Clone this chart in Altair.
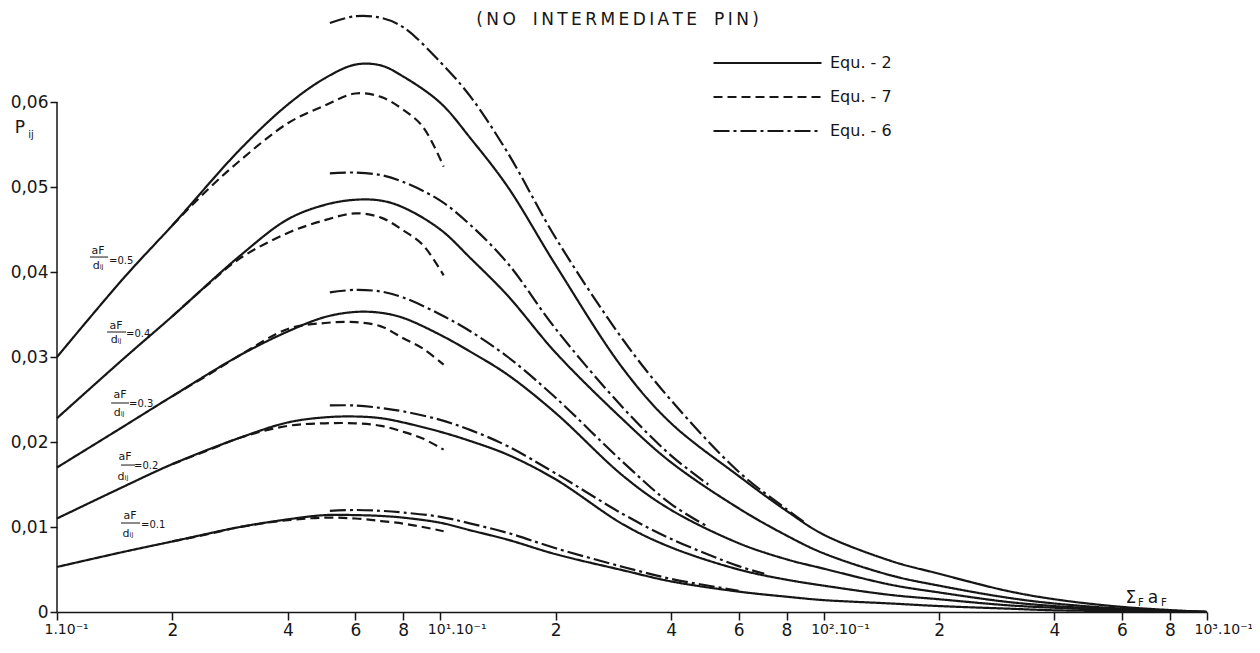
import json
import altair as alt
import pandas as pd

FONT = "DejaVu Sans"
INK = "#161616"

ratios = ["0.5", "0.4", "0.3", "0.2", "0.1"]
equations = ["Equ. - 2", "Equ. - 7", "Equ. - 6"]

# ---- Equ. - 2 (solid) : whole range of sum a_F (units of 10^-1)
x_eq2 = [1, 1.5, 2, 3, 4, 5, 6, 7, 8, 10, 12, 15, 20, 30, 40, 60, 80, 100, 150, 200, 300, 400, 600, 1000]
p_eq2_05 = [0.0300, 0.0394, 0.0455, 0.0544, 0.0597, 0.0628, 0.0644, 0.0643, 0.0630, 0.0599, 0.0557, 0.0500, 0.0408, 0.0286, 0.0222, 0.0160, 0.0119, 0.0091, 0.0060, 0.0045, 0.0025, 0.0015, 0.0006, 0.0]
p_eq2_04 = [0.0228, 0.0299, 0.0348, 0.0419, 0.0462, 0.0479, 0.0485, 0.0484, 0.0476, 0.0450, 0.0416, 0.0372, 0.0305, 0.0226, 0.0176, 0.0122, 0.0090, 0.0069, 0.0043, 0.0031, 0.0017, 0.0010, 0.0004, 0.0]
p_eq2_03 = [0.0170, 0.0219, 0.0254, 0.0302, 0.0330, 0.0347, 0.0353, 0.0352, 0.0346, 0.0326, 0.0306, 0.0279, 0.0234, 0.0160, 0.0120, 0.0081, 0.0062, 0.0051, 0.0032, 0.0023, 0.0012, 0.0007, 0.0003, 0.0]
p_eq2_02 = [0.0110, 0.0148, 0.0174, 0.0205, 0.0223, 0.0229, 0.0230, 0.0228, 0.0223, 0.0212, 0.0201, 0.0185, 0.0156, 0.0103, 0.0076, 0.0050, 0.0038, 0.0031, 0.0020, 0.0015, 0.0008, 0.0005, 0.0002, 0.0]
p_eq2_01 = [0.0053, 0.0071, 0.0083, 0.0100, 0.0109, 0.0114, 0.0114, 0.0113, 0.0111, 0.0105, 0.0096, 0.0085, 0.0068, 0.0049, 0.0036, 0.0024, 0.0018, 0.0014, 0.0010, 0.0007, 0.0004, 0.0002, 0.0001, 0.0]

# ---- Equ. - 7 (dashed)
x_eq7 = [2, 2.5, 3, 4, 5, 6, 7, 8, 9, 10.2]
p_eq7_05 = [0.0455, 0.0499, 0.0531, 0.0575, 0.0596, 0.0610, 0.0606, 0.0591, 0.0571, 0.0524]
p_eq7_04 = [0.0348, 0.0387, 0.0416, 0.0446, 0.0461, 0.0469, 0.0464, 0.0449, 0.0432, 0.0396]
p_eq7_03 = [0.0254, 0.0280, 0.0302, 0.0333, 0.0340, 0.0341, 0.0336, 0.0322, 0.0310, 0.0291]
p_eq7_02 = [0.0174, 0.0191, 0.0205, 0.0219, 0.0222, 0.0222, 0.0219, 0.0212, 0.0204, 0.0191]
p_eq7_01 = [0.0083, 0.0092, 0.0100, 0.0108, 0.0111, 0.0110, 0.0107, 0.0104, 0.0100, 0.0095]

# ---- Equ. - 6 (dash-dot)
x_eq6_05 = [5.15, 6, 7, 8, 10, 12, 15, 20, 30, 40, 60, 80, 90]
p_eq6_05 = [0.0693, 0.0701, 0.0699, 0.0688, 0.0647, 0.0606, 0.0540, 0.0440, 0.0320, 0.0249, 0.0165, 0.0121, 0.0104]
x_eq6_04 = [5.15, 6, 7, 8, 10, 12, 15, 20, 30, 40, 50]
p_eq6_04 = [0.0516, 0.0517, 0.0514, 0.0506, 0.0484, 0.0455, 0.0410, 0.0333, 0.0240, 0.0184, 0.0150]
x_eq6_03 = [5.15, 6, 7, 8, 10, 12, 15, 20, 30, 40, 50]
p_eq6_03 = [0.0376, 0.0379, 0.0377, 0.0370, 0.0350, 0.0330, 0.0300, 0.0252, 0.0176, 0.0127, 0.0100]
x_eq6_02 = [5.15, 6, 7, 8, 10, 12, 15, 20, 30, 40, 60, 70]
p_eq6_02 = [0.0243, 0.0243, 0.0240, 0.0236, 0.0226, 0.0214, 0.0195, 0.0163, 0.0115, 0.0086, 0.0054, 0.0045]
x_eq6_01 = [5.15, 6, 7, 8, 10, 12, 15, 20, 30, 40, 60]
p_eq6_01 = [0.0119, 0.0120, 0.0119, 0.0117, 0.0112, 0.0104, 0.0093, 0.0075, 0.0053, 0.0039, 0.0025]

# ---- axes
x_tick_values = [1, 2, 4, 6, 8, 10, 20, 40, 60, 80, 100, 200, 400, 600, 800, 1000]
x_tick_labels = ["1.10⁻¹", "2", "4", "6", "8", "10¹.10⁻¹", "2", "4", "6", "8",
                 "10².10⁻¹", "2", "4", "6", "8", "10³.10⁻¹"]
x_decades = [1, 10, 100, 1000]
y_tick_values = [0, 0.01, 0.02, 0.03, 0.04, 0.05, 0.06]

TS = "\u2009"
title_text = "\u2003".join(TS.join(w) for w in ["(NO", "INTERMEDIATE", "PIN)"])

# ---- annotations (data coordinates)
ann_center_text = ["aF", "dᵢⱼ", "aF", "dᵢⱼ", "aF", "dᵢⱼ", "aF", "dᵢⱼ", "aF", "dᵢⱼ",
                   "P", "ij", "Σ", "F", "a", "F", title_text]
ann_center_x = [1.280, 1.280, 1.426, 1.426, 1.461, 1.452, 1.505, 1.487, 1.551, 1.532,
                0.80, 0.855, 633.0, 672.0, 723.0, 772.0, 29.0]
ann_center_y = [0.04247, 0.04071, 0.03365, 0.03200, 0.02553, 0.02341, 0.01824, 0.01588, 0.01129, 0.00918,
                0.05694, 0.05612, 0.00165, 0.00106, 0.00165, 0.00106, 0.06965]
ann_center_size = [11, 11, 11, 11, 11, 11, 11, 11, 11, 11,
                   17, 10, 17, 10, 17, 10, 17]

ann_left_text = ["=0.5", "=0.4", "=0.3", "=0.2", "=0.1"]
ann_left_x = [1.367, 1.514, 1.542, 1.589, 1.657]
ann_left_y = [0.04129, 0.03271, 0.02447, 0.01718, 0.01024]

bar_x1 = [1.219, 1.351, 1.384, 1.469, 1.469]
bar_x2 = [1.359, 1.514, 1.542, 1.598, 1.647]
bar_y = [0.04176, 0.03294, 0.02459, 0.01729, 0.01047]

# ---- build long table
rows = []
eq2 = dict(zip(ratios, [p_eq2_05, p_eq2_04, p_eq2_03, p_eq2_02, p_eq2_01]))
eq7 = dict(zip(ratios, [p_eq7_05, p_eq7_04, p_eq7_03, p_eq7_02, p_eq7_01]))
eq6x = dict(zip(ratios, [x_eq6_05, x_eq6_04, x_eq6_03, x_eq6_02, x_eq6_01]))
eq6 = dict(zip(ratios, [p_eq6_05, p_eq6_04, p_eq6_03, p_eq6_02, p_eq6_01]))
for r in ratios:
    for xv, pv in zip(x_eq2, eq2[r]):
        rows.append({"x": xv, "p": pv, "eq": "Equ. - 2", "series": "2-" + r})
    for xv, pv in zip(x_eq7, eq7[r]):
        rows.append({"x": xv, "p": pv, "eq": "Equ. - 7", "series": "7-" + r})
    for xv, pv in zip(eq6x[r], eq6[r]):
        rows.append({"x": xv, "p": pv, "eq": "Equ. - 6", "series": "6-" + r})
df = pd.DataFrame(rows)

label_expr = "''"
for v, lab in reversed(list(zip(x_tick_values, x_tick_labels))):
    label_expr = "(abs(datum.value - {}) < 1e-6 ? {} : {})".format(v, json.dumps(lab, ensure_ascii=False), label_expr)
decade_test = " || ".join("abs(datum.value - {}) < 1e-6".format(v) for v in x_decades)

x_scale = alt.Scale(type="log", domain=[1, 1000], nice=False)
y_scale = alt.Scale(domain=[0, 0.07], nice=False, zero=True)

lines = alt.Chart(df).mark_line(strokeWidth=2.2, color=INK, interpolate="catmull-rom").encode(
    x=alt.X("x:Q", scale=x_scale,
            axis=alt.Axis(values=x_tick_values, labelExpr=label_expr, title=None, grid=False,
                          tickSize=8, tickWidth=1.5, tickColor=INK, domainColor=INK, domainWidth=1.5,
                          labelFont=FONT, labelColor=INK, labelPadding=2,
                          labelFlush=False, labelOverlap=False,
                          labelFontSize={"condition": {"test": decade_test, "value": 14}, "value": 17},
                          labelAlign={"condition": {"test": decade_test, "value": "left"}, "value": "center"},
                          labelOffset={"condition": {"test": decade_test, "value": -13}, "value": 0})),
    y=alt.Y("p:Q", scale=y_scale,
            axis=alt.Axis(values=y_tick_values,
                          labelExpr="datum.value == 0 ? '0' : replace(format(datum.value, '.2f'), '.', ',')",
                          title=None, grid=False, domain=False, tickSize=7, tickWidth=1.5, tickColor=INK,
                          labelFont=FONT, labelFontSize=17, labelColor=INK, labelPadding=2)),
    strokeDash=alt.StrokeDash("eq:N", scale=alt.Scale(domain=equations, range=[[1, 0], [9, 5], [16, 4, 3, 4]]),
                              legend=alt.Legend(title=None, orient="none", legendX=655, legendY=37,
                                                symbolType="stroke", symbolSize=11664, symbolStrokeWidth=2.2,
                                                symbolStrokeColor=INK, clipHeight=18, rowPadding=16,
                                                labelFont=FONT, labelFontSize=16, labelColor=INK,
                                                labelOffset=7, padding=0)),
    detail="series:N",
)

yaxis_df = pd.DataFrame({"x": [1], "y": [0.0], "y2": [0.06]})
yaxis_line = alt.Chart(yaxis_df).mark_rule(color=INK, strokeWidth=1.5).encode(
    x="x:Q", y="y:Q", y2="y2:Q")

center_df = pd.DataFrame({"t": ann_center_text, "x": ann_center_x, "y": ann_center_y, "s": ann_center_size})
center_text = alt.Chart(center_df).mark_text(font=FONT, color=INK, align="center", baseline="middle").encode(
    x="x:Q", y="y:Q", text="t:N", size=alt.Size("s:Q", scale=None, legend=None))

left_df = pd.DataFrame({"t": ann_left_text, "x": ann_left_x, "y": ann_left_y})
left_text = alt.Chart(left_df).mark_text(font=FONT, color=INK, align="left", baseline="middle", fontSize=10).encode(
    x="x:Q", y="y:Q", text="t:N")

bar_df = pd.DataFrame({"x": bar_x1, "x2": bar_x2, "y": bar_y})
bars = alt.Chart(bar_df).mark_rule(color=INK, strokeWidth=1).encode(x="x:Q", x2="x2:Q", y="y:Q")

chart = alt.layer(lines, yaxis_line, bars, center_text, left_text).properties(
    width=1150, height=595,
    padding={"left": 49, "top": 9, "right": 45, "bottom": 37},
    autosize=alt.AutoSizeParams(type="none"),
    background="white",
).configure_view(stroke=None)

chart.save("out.html", embed_options={"renderer": "svg", "actions": False})
